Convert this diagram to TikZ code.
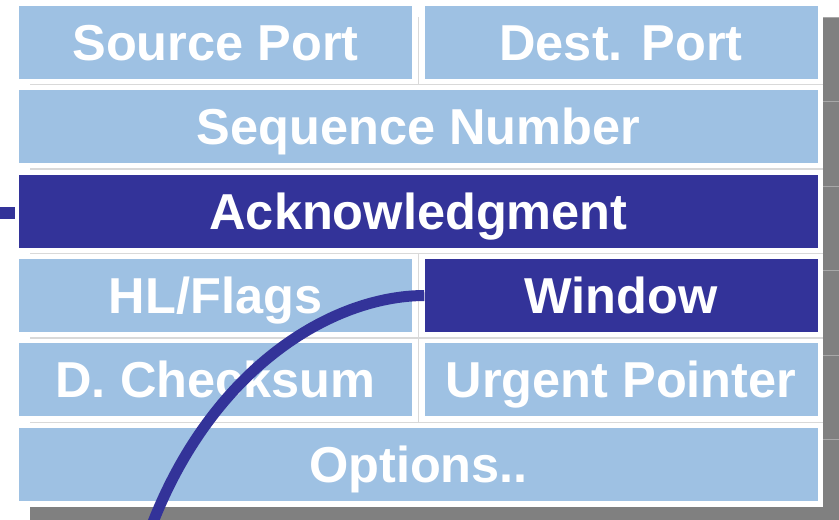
\documentclass[tikz,border=0pt]{standalone}
\usepackage{fontspec}
\setmainfont{Liberation Sans}
\definecolor{cellblue}{RGB}{158,193,227}
\definecolor{markblue}{RGB}{51,51,153}
\definecolor{shadowgray}{RGB}{128,128,128}
\definecolor{gridgray}{RGB}{217,217,217}
\definecolor{shadeline}{RGB}{168,168,168}
\begin{document}
\begin{tikzpicture}[x=1pt,y=-1pt,
  field/.style={rectangle, fill=cellblue, inner sep=0pt, minimum height=73pt,
    text=white, font=\fontsize{50.5}{50.5}\selectfont\bfseries,
    text height=36.2pt, text depth=0pt},
  half/.style={field, minimum width=393pt},
  full/.style={field, minimum width=799pt},
  marked/.style={fill=markblue},
  link/.style={draw=markblue, line width=11pt},
  gridline/.style={draw=gridgray, line width=1.2pt},
  ridge/.style={draw=shadeline, line width=1pt}]
\useasboundingbox (0,0) rectangle (839,520);
\clip (0,0) rectangle (839,520);

% drop shadow behind the white table panel
\fill[shadowgray] (30,17) rectangle (845,530);
\draw[ridge] (823,17.5) -- (845,17.5);
\foreach \y in {101,186,270,355,439}
  \draw[ridge] (823,\y) -- (845,\y);
\fill[white] (0,0) rectangle (823,507);

% light grid between the cells
\foreach \y in {84.5,169,253.5,338,422.5}
  \draw[gridline] (30,\y) -- (823,\y);
\draw[gridline] (418.7,17) -- (418.7,84.5);
\draw[gridline] (418.7,253.5) -- (418.7,422.5);

% header fields
\node[half] (src) at (215.5,42.5) {Source Port};
\node[half] (dst) at (621,42.5) {Dest. Port};
\node[full] (seq) at (418.5,126.5) {Sequence Number};
\node[full, marked] (ack) at (418.5,211.5) {Acknowledgment};
\node[half] (hl) at (215.5,295.5) {HL/Flags};
\node[half, marked] (win) at (621,295.5) {Window};
\node[half] (chk) at (215.5,379.5) {D. Checksum};
\node[half] (urg) at (621,379.5) {Urgent Pointer};
\node[full] (opt) at (418.5,464.5) {Options..};

% pointers to the highlighted fields
\coordinate (ackin) at (-2,213);
\draw[link, line width=12pt, shorten >=4pt] (ackin) -- (ackin -| ack.west);
\coordinate (winin) at (150,530);
\draw[link] (win.west) .. controls (330,296) and (210,370) .. (winin);
\end{tikzpicture}
\end{document}
